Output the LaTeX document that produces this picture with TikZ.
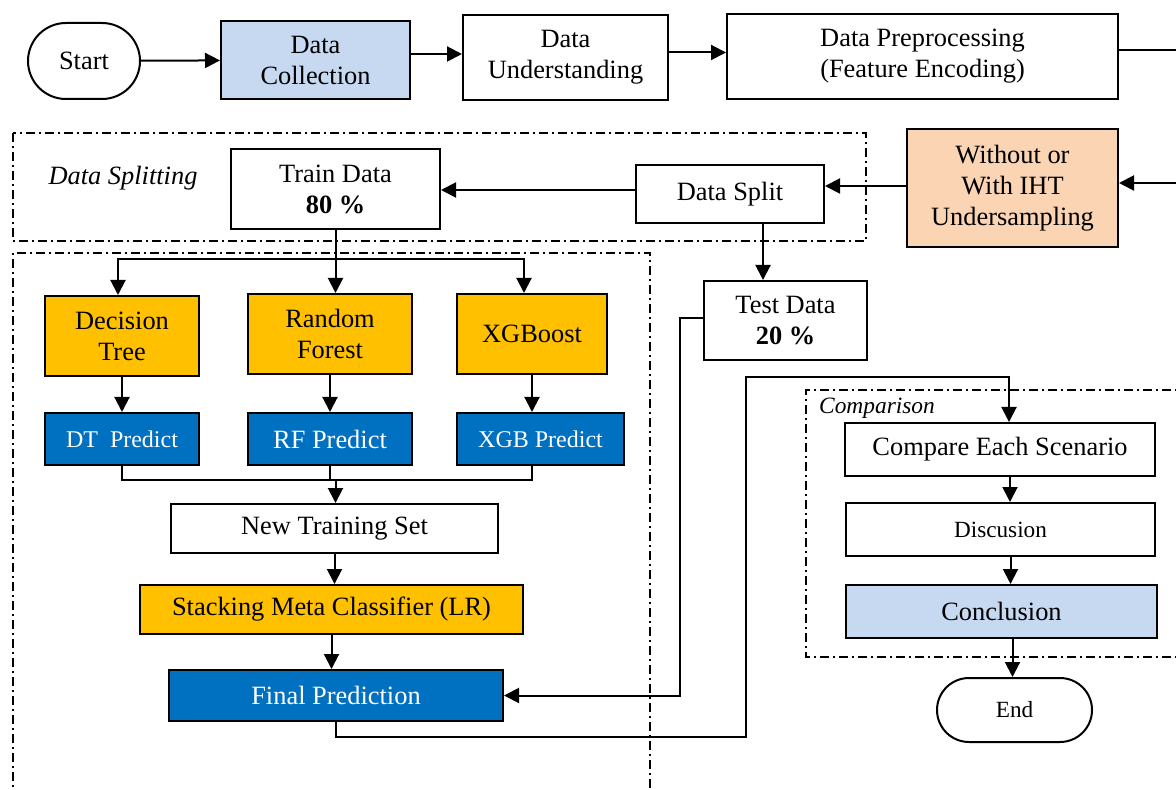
\documentclass[tikz,border=0pt]{standalone}
\usepackage{fontspec}
\setmainfont{Liberation Serif}
\usepackage{tikz}
\usetikzlibrary{arrows.meta, calc, positioning, shapes.misc}
\definecolor{paleblue}{RGB}{198,217,240}
\definecolor{peach}{RGB}{251,212,180}
\definecolor{gold}{RGB}{255,192,0}
\definecolor{deepblue}{RGB}{0,112,192}

\begin{document}
\begin{tikzpicture}[x=0.5pt, y=-0.5pt,
    box/.style={draw, fill=white, line width=1pt, align=center, inner sep=2pt,
      font=\fontsize{13.2}{15.5}\selectfont},
    term/.style={box, rounded rectangle},
    model/.style={box, fill=gold},
    pred/.style={box, fill=deepblue, text=white},
    link/.style={line width=1pt},
    arr/.style={link, -{Triangle[length=7.5pt, width=7.5pt]}},
    frame/.style={line width=0.7pt, dash pattern=on 4.5pt off 2pt on 1pt off 2pt}]
  \useasboundingbox (0,0) rectangle (1176,790);

  % dash-dot groups
  \draw[frame] (13,133) rectangle (866,241);
  \draw[frame] (13,800) -- (13,253) -- (650,253) -- (650,800);
  \draw[frame] (1190,390) -- (806,390) -- (806,657) -- (1190,657);
  \node[font=\fontsize{13.2}{15.5}\selectfont\itshape] (splitlbl) at (123,178) {Data Splitting};
  \node[font=\fontsize{11.7}{14}\selectfont\itshape] (cmplbl) at (877,408) {Comparison};

  % top row
  \node[term, minimum width=60pt, minimum height=38pt] (start) at (84,61) {Start};
  \node[box, fill=paleblue, minimum width=94.5pt, minimum height=39pt] (collect) at (315.5,60) {Data\\Collection};
  \node[box, minimum width=102.5pt, minimum height=42.5pt] (understand) at (565.5,57.5) {Data\\Understanding};
  \node[box, minimum width=195.5pt, minimum height=42.5pt] (preproc) at (922.5,56.5) {Data Preprocessing\\(Feature Encoding)};

  % splitting
  \node[box, fill=peach, minimum width=105.5pt, minimum height=59pt] (iht) at (1012.5,188) {Without or\\With IHT\\Undersampling};
  \node[box, minimum width=94pt, minimum height=29pt] (split) at (730,194) {Data Split};
  \node[box, minimum width=104.5pt, minimum height=40pt] (train) at (335.5,189) {Train Data\\\textbf{80 \%}};
  \node[box, minimum width=81.5pt, minimum height=39.5pt] (test) at (785.5,320.5) {Test Data\\\textbf{20 \%}};

  % base models
  \node[model, minimum width=77pt, minimum height=40pt] (dt) at (122,336) {Decision\\Tree};
  \node[model, minimum width=82pt, minimum height=40pt] (rf) at (330,334) {Random\\Forest};
  \node[model, minimum width=75pt, minimum height=40pt] (xgb) at (532,334) {XGBoost};
  \node[pred, minimum width=77pt, minimum height=26pt, font=\fontsize{12}{14}\selectfont] (dtp) at (122,439) {DT~ Predict};
  \node[pred, minimum width=82pt, minimum height=26pt] (rfp) at (330,439) {RF Predict};
  \node[pred, minimum width=83.5pt, minimum height=26pt, font=\fontsize{12}{14}\selectfont] (xgbp) at (540.5,439) {XGB Predict};

  % stacking
  \node[box, minimum width=163.5pt, minimum height=24.5pt] (newset) at (334.5,528.5) {New Training Set};
  \node[model, minimum width=191.5pt, minimum height=24.5pt] (meta) at (331.5,609.5) {Stacking Meta Classifier (LR)};
  \node[pred, minimum width=167pt, minimum height=25.5pt] (final) at (336,695.5) {Final Prediction};

  % comparison
  \node[box, minimum width=155pt, minimum height=26.5pt] (cmp) at (1000,449.5) {Compare Each Scenario};
  \node[box, minimum width=154.5pt, minimum height=26.5pt, font=\fontsize{11.6}{14}\selectfont] (disc) at (1000.5,529.5) {Discusion};
  \node[box, fill=paleblue, minimum width=155.5pt, minimum height=26.5pt] (concl) at (1001.5,611.5) {Conclusion};
  \node[term, minimum width=81.5pt, minimum height=32pt, font=\fontsize{11.6}{14}\selectfont] (finish) at (1014.5,710) {End};

  % connectors
  \coordinate (rim) at (1186,120);
  \coordinate (splitout) at ([xshift=16.5pt]split.south);
  \coordinate (fork) at (335.5,259);
  \coordinate (merge) at (335.5,480);
  \coordinate (detourlow) at (746,737);
  \coordinate (detourhigh) at (746,377);

  \draw[arr] (start) -- (collect);
  \draw[arr] ([yshift=3pt]collect.east) -- ([yshift=3pt]collect.east -| understand.west);
  \draw[arr] ([yshift=2.5pt]understand.east) -- ([yshift=2.5pt]understand.east -| preproc.west);
  \draw[link] ([yshift=3pt]preproc.east) -| (rim);
  \draw[arr] (rim) |- ([yshift=2.5pt]iht.east);
  \draw[arr] ([yshift=1pt]iht.west) -- ([yshift=1pt]iht.west -| split.east);
  \draw[arr] ([yshift=2pt]split.west) -- ([yshift=2pt]split.west -| train.east);
  \draw[arr] (splitout) -- (splitout |- test.north);

  \draw[link] (train.south) -- (fork);
  \draw[arr] (fork) -- (fork |- rf.north);
  \draw[arr] (fork) -| ([xshift=-2pt]dt.north);
  \draw[arr] (fork) -| ([xshift=-4pt]xgb.north);
  \draw[arr] (dt) -- (dtp);
  \draw[arr] (rf) -- (rfp);
  \draw[arr] (xgb.south) -- (xgb.south |- xgbp.north);
  \draw[link] (dtp.south) |- (merge);
  \draw[link] (xgb.south |- xgbp.south) |- (merge);
  \draw[link] (rfp.south) -- (rfp.south |- merge);
  \draw[arr] (merge) -- (merge |- newset.north);
  \draw[arr] (newset.south) -- (newset.south |- meta.north);
  \draw[arr] (meta.south) -- (meta.south |- final.north);

  \draw[arr] ([yshift=1pt]test.west) -- ++(-11.5pt,0) |- (final.east);
  \draw[arr] (final.south) |- (detourlow) -- (detourhigh) -| ([xshift=4.5pt]cmp.north);
  \draw[arr] ([xshift=5pt]cmp.south) -- ([xshift=5pt]cmp.south |- disc.north);
  \draw[arr] ([xshift=5pt]disc.south) -- ([xshift=5pt]disc.south |- concl.north);
  \draw[arr] ([xshift=5.5pt]concl.south) -- ([xshift=5.5pt]concl.south |- finish.north);
\end{tikzpicture}
\end{document}
